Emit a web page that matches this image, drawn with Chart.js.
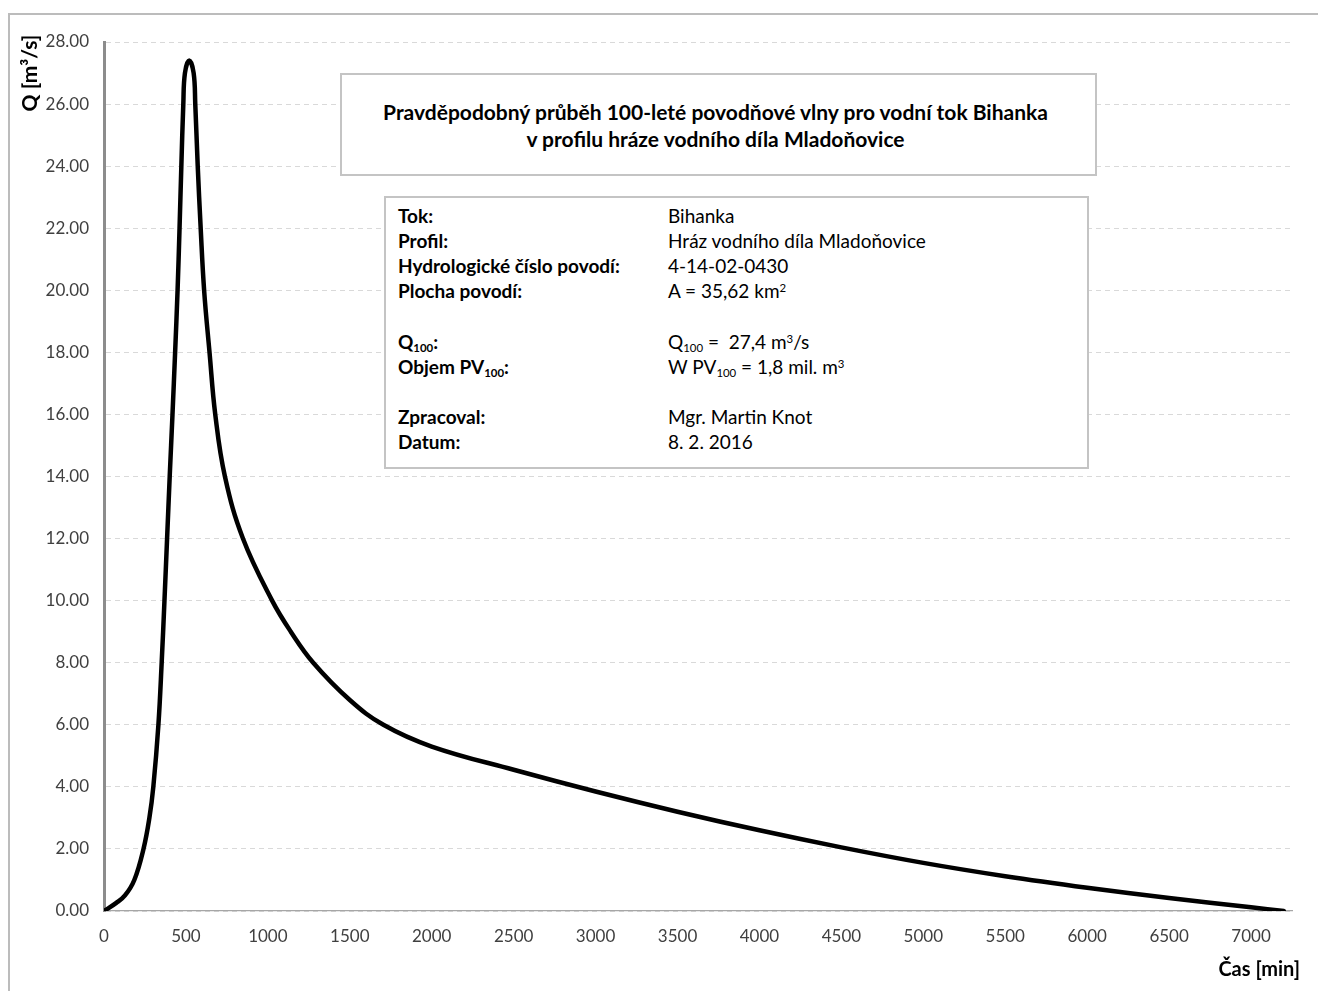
<!DOCTYPE html>
<html lang="cs">
<head>
<meta charset="utf-8">
<title>Povodňová vlna Q100 – Bihanka</title>
<script src="https://cdn.jsdelivr.net/npm/chart.js@4.4.1/dist/chart.umd.min.js"></script>
<style>
  html, body { margin: 0; padding: 0; background: #ffffff; }
  #wrap { position: relative; width: 1318px; height: 991px; overflow: hidden; font-family: Lato, "Open Sans", sans-serif; color: #000; }
  #frame { position: absolute; left: 8px; top: 13px; width: 1318px; height: 990px; border: 2px solid #bcbcbc; box-sizing: border-box; pointer-events: none; }
  canvas { position: absolute; left: 0; top: 0; }
  .box { position: absolute; background: #ffffff; border: 2px solid #c4c4c4; box-sizing: border-box; }
  #titleBox { left: 340px; top: 73px; width: 757px; height: 103px; text-align: center; font-weight: bold; font-size: 21px; line-height: 27px; padding-top: 23px; padding-right: 6px; }
  #infoBox { left: 384px; top: 196px; width: 705px; height: 273px; font-size: 19px; }
  .row { position: absolute; left: 0; width: 100%; height: 25px; line-height: 25px; }
  .row .k { position: absolute; left: 12px; font-weight: bold; }
  .row .v { position: absolute; left: 282px; }
  sub, sup { font-size: 0.6em; line-height: 0; }
  sub { vertical-align: -0.3em; }
  sup { vertical-align: 0.55em; }
</style>
</head>
<body>
<div id="wrap">
  <canvas id="chart" width="1318" height="991"></canvas>
  <div id="frame"></div>
  <div class="box" id="titleBox">Pravděpodobný průběh 100-leté povodňové vlny pro vodní tok Bihanka<br>v profilu hráze vodního díla Mladoňovice</div>
  <div class="box" id="infoBox">
    <div class="row" style="top:5px"><span class="k">Tok:</span><span class="v">Bihanka</span></div>
    <div class="row" style="top:30px"><span class="k">Profil:</span><span class="v">Hráz vodního díla Mladoňovice</span></div>
    <div class="row" style="top:55px"><span class="k">Hydrologické číslo povodí:</span><span class="v">4-14-02-0430</span></div>
    <div class="row" style="top:80px"><span class="k">Plocha povodí:</span><span class="v">A = 35,62 km<sup>2</sup></span></div>
    <div class="row" style="top:131px"><span class="k">Q<sub>100</sub>:</span><span class="v">Q<sub>100</sub> =&nbsp; 27,4 m<sup>3</sup>/s</span></div>
    <div class="row" style="top:156px"><span class="k">Objem PV<sub>100</sub>:</span><span class="v">W PV<sub>100</sub> = 1,8 mil. m<sup>3</sup></span></div>
    <div class="row" style="top:206px"><span class="k">Zpracoval:</span><span class="v">Mgr. Martin Knot</span></div>
    <div class="row" style="top:231px"><span class="k">Datum:</span><span class="v">8. 2. 2016</span></div>
  </div>
</div>
<script>
// Čas [min] and průtok Q [m3/s] of the design flood wave
const casMin = [0, 75, 128, 185, 241, 277, 301, 332, 352, 369, 385, 401, 418, 434, 449, 461, 472, 484, 494, 520, 547, 557, 572, 590, 611, 644, 679, 738, 848, 1026, 1140, 1277, 1500, 1705, 2000, 2500, 3000, 3500, 4000, 4500, 5000, 5500, 6000, 6500, 7000, 7200];
const prutokQ = [0, 0.26, 0.5, 1.0, 2.0, 3.0, 4.0, 6.0, 8.0, 10.0, 12.0, 14.0, 16.0, 18.0, 20.0, 22.0, 24.0, 26.0, 27.0, 27.4, 27.0, 26.0, 24.0, 22.0, 20.0, 18.0, 16.0, 14.0, 12.0, 10.0, 9.0, 8.0, 6.8, 6.0, 5.3, 4.55, 3.85, 3.2, 2.6, 2.05, 1.55, 1.12, 0.75, 0.42, 0.12, 0];

// Tick values of the time axis and range of the value axis
const xTickValues = [0, 500, 1000, 1500, 2000, 2500, 3000, 3500, 4000, 4500, 5000, 5500, 6000, 6500, 7000];
const xMax = 7250;
const yMax = 28;
const yStep = 2;

const yTitle = 'Q [m³/s]';
const xTitle = 'Čas [min]';

const points = casMin.map((t, i) => ({ x: t, y: prutokQ[i] }));

const tickFont = { family: 'Lato', size: 17 };
const tickColor = '#404040';

// Axis titles: Q at the top of the value axis, time at the right end of the time axis
const axisTitles = {
  id: 'axisTitles',
  afterDraw(chart) {
    const ctx = chart.ctx;
    ctx.save();
    ctx.fillStyle = '#000';
    ctx.font = 'bold 21px Lato';
    ctx.textAlign = 'center';
    ctx.textBaseline = 'middle';
    ctx.translate(30, 73);
    ctx.rotate(-Math.PI / 2);
    ctx.fillText(yTitle, 0, 0);
    ctx.restore();

    ctx.save();
    ctx.fillStyle = '#000';
    ctx.font = 'bold 20px Lato';
    ctx.textAlign = 'right';
    ctx.textBaseline = 'alphabetic';
    ctx.fillText(xTitle, 1300, 976);
    ctx.restore();
  }
};

new Chart(document.getElementById('chart'), {
  type: 'line',
  data: {
    datasets: [{
      data: points,
      borderColor: '#000000',
      borderWidth: 4.5,
      borderCapStyle: 'round',
      borderJoinStyle: 'round',
      pointRadius: 0,
      fill: false,
      tension: 0.4
    }]
  },
  options: {
    responsive: false,
    animation: false,
    layout: { padding: { left: 0, top: 42, right: 26, bottom: 0 } },
    plugins: {
      legend: { display: false },
      tooltip: { enabled: false },
      title: { display: false }
    },
    scales: {
      x: {
        type: 'linear',
        min: 0,
        max: xMax,
        afterFit(scale) { scale.height = 80; },
        afterBuildTicks(scale) {
          scale.ticks = xTickValues.map(v => ({ value: v }));
        },
        ticks: {
          font: tickFont,
          color: tickColor,
          padding: 15,
          maxRotation: 0,
          autoSkip: false,
          callback: v => String(v)
        },
        grid: { display: false, drawTicks: false },
        border: { display: true, color: '#a6a6a6', width: 1.2 }
      },
      y: {
        min: 0,
        max: yMax,
        afterFit(scale) { scale.width = 104; },
        ticks: {
          stepSize: yStep,
          font: tickFont,
          color: tickColor,
          padding: 15,
          callback: v => Number(v).toFixed(2)
        },
        grid: { color: '#d9d9d9', lineWidth: 1, drawTicks: false },
        border: { display: true, color: '#8c8c8c', width: 3, dash: [5, 4] }
      }
    }
  },
  plugins: [axisTitles]
});
</script>
</body>
</html>
